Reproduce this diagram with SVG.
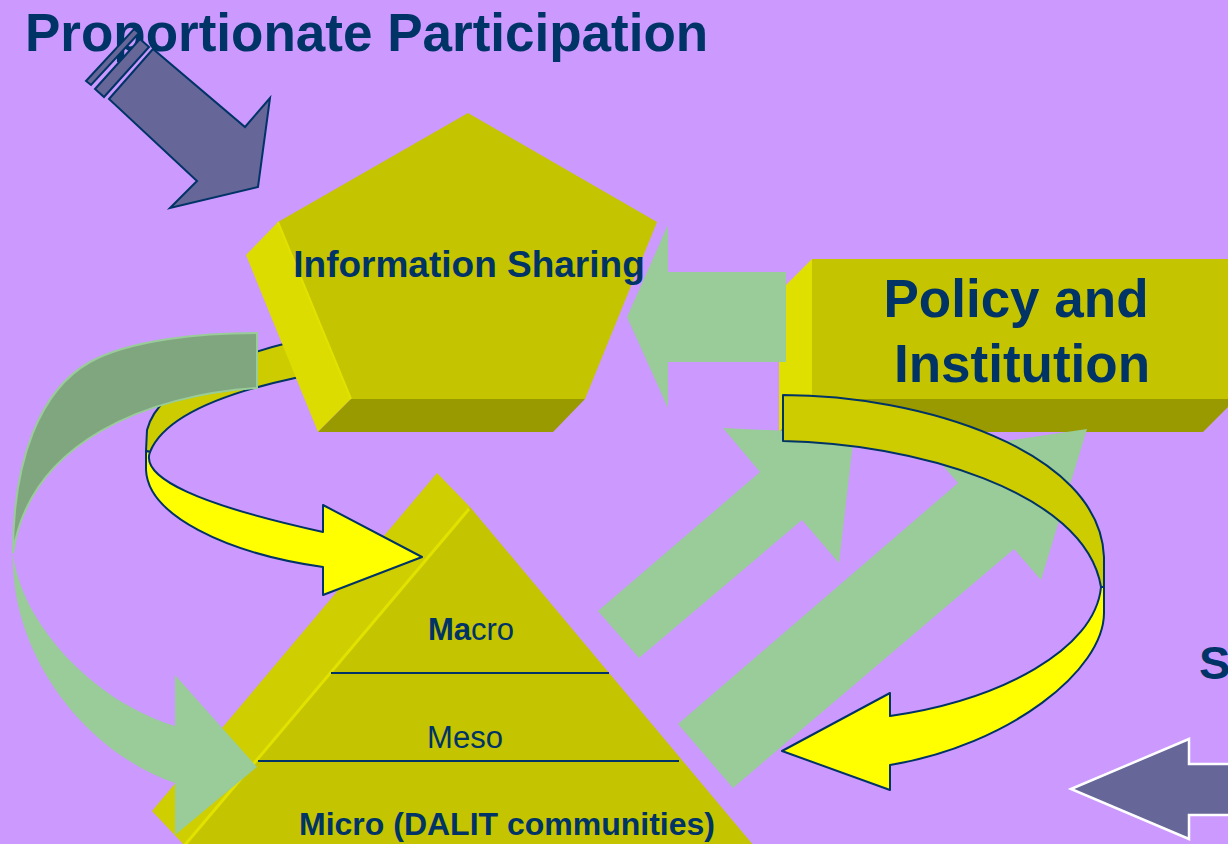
<svg xmlns="http://www.w3.org/2000/svg" width="1228" height="844" viewBox="0 0 1228 844">
<defs>
<style>
.bg{fill:#CC99FF}
.txt{font-family:"Liberation Sans",Arial,sans-serif;fill:#003366}
.b{font-weight:bold}
.front{fill:#C4C400}
.bottom{fill:#999900}
.green{fill:#99CC99}
.gdark{fill:#80A67F;stroke:#99CC99;stroke-width:2}
.ydark{fill:#CCCC00;stroke:#003366;stroke-width:2;stroke-linejoin:round}
.ybright{fill:#FFFF00;stroke:#003366;stroke-width:2;stroke-linejoin:round}
.navy{fill:#666699;stroke:#003366;stroke-width:2}
.navyw{fill:#666699;stroke:#FFFFFF;stroke-width:2.5}
.rule{stroke:#003366;stroke-width:2}
</style>
</defs>
<rect class="bg" x="0" y="0" width="1228" height="844"/>

<text id="title" class="txt b" x="25" y="51" font-size="53">Proportionate Participation</text>

<g id="ribbon-left-back">
<path class="ydark" d="M330,334 C250,348 160,380 147,430 L146,451 L150,452 C165,415 230,392 295,378 L330,371 Z"/>
</g>

<g id="info-sharing">
<polygon fill="#DCDC00" points="278,222 246,255 318,432 351,399"/>
<polygon class="bottom" points="351,399 585,399 553,432 318,432"/>
<polygon class="front" points="468,113 657,222 585,399 351,399 278,222"/>
<line x1="278" y1="222" x2="351" y2="399" stroke="#E2E200" stroke-width="2"/>
<text class="txt b" x="469" y="277" font-size="37" text-anchor="middle">Information Sharing</text>
</g>

<g id="policy-institution">
<polygon fill="#E0E000" points="812,259 779,292 779,432 812,399"/>
<polygon class="bottom" points="812,399 1236,399 1203,432 779,432"/>
<rect class="front" x="812" y="259" width="424" height="140"/>
<text class="txt b" x="1016" y="317" font-size="53" text-anchor="middle">Policy and</text>
<text class="txt b" x="1022" y="382" font-size="53" text-anchor="middle">Institution</text>
</g>

<g id="pyramid">
<polygon fill="#CECE00" points="437,473 470,507 185,846 152,811"/>
<polygon class="front" points="470,507 754,846 185,846"/>
<line x1="469" y1="509" x2="184" y2="846" stroke="#E2E200" stroke-width="3"/>
<line class="rule" x1="331" y1="673" x2="609" y2="673"/>
<line class="rule" x1="258" y1="761" x2="679" y2="761"/>
<text class="txt" x="471" y="640" font-size="31" text-anchor="middle"><tspan class="b">Ma</tspan>cro</text>
<text class="txt" x="465" y="748" font-size="31" text-anchor="middle">Meso</text>
<text class="txt b" x="507" y="835" font-size="32" text-anchor="middle">Micro (DALIT communities)</text>
</g>

<g id="connectors">
<polygon class="green" points="627,317 668,225 668,272 786,272 786,362 668,362 668,408"/>
<path class="gdark" d="M257,333 C200,333 130,340 90,362 C40,390 13,460 13,553 C30,440 150,395 257,388 Z"/>
<path class="green" d="M13,553 C10,650 80,750 175,783 L175,835 L257,767 L175,675 L175,726 C90,700 20,620 13,553 Z"/>
<path class="ybright" d="M150,452 C140,478 200,505 323,532 L323,505 L422,557 L323,595 L323,567 C225,553 148,515 146,470 L146,451 Z"/>
<polygon class="green" points="598,611 760,472 723,428 854,434 839,563 802,520 639,658"/>
<polygon class="green" points="678,724 958,483 931,452 1087,429 1041,580 1014,549 733,788"/>
<path class="ydark" d="M783,395 C920,395 1100,450 1104,557 L1104,587 L1101,587 C1085,490 910,443 783,441 Z"/>
<path class="ybright" d="M1101,587 C1095,650 1000,700 890,716 L890,693 L782,751 L890,790 L890,765 C1010,745 1104,670 1104,613 L1104,587 Z"/>
<polygon class="navy" points="95,89 140,39 149,47 104,97"/>
<polygon class="navy" points="86,81 134,29 139,33 91,85"/>
<polygon class="navy" points="109,99 153,49 245,127 270,98 258,187 170,208 197,181"/>
<polygon class="navyw" points="1071,789 1189,739 1189,764 1240,764 1240,815 1189,815 1189,839"/>
</g>

<text id="s-label" class="txt b" x="1199" y="679" font-size="47">S</text>
</svg>
